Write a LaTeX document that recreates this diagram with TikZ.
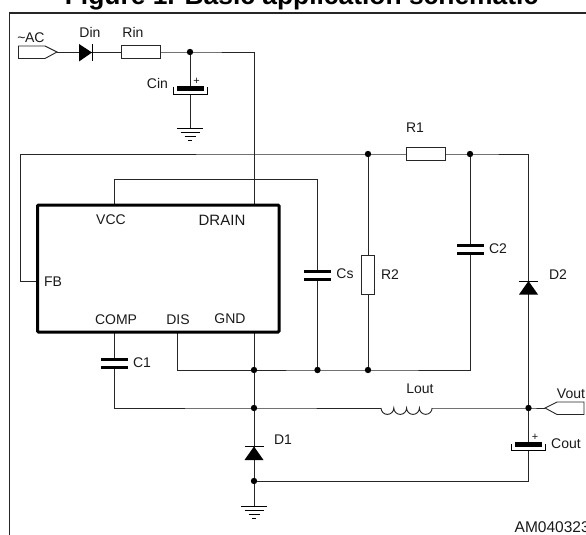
\documentclass[tikz,border=0pt]{standalone}
\usepackage{fontspec}
\usetikzlibrary{calc}
\setmainfont{Liberation Sans}
\begin{document}
\begin{tikzpicture}[x=1pt,y=-1pt,
  wire/.style={draw=black!85,line width=0.95pt},
  frameline/.style={draw=black!85,line width=1.3pt},
  res/.style={draw=black!85,fill=white,line width=0.9pt,rectangle,inner sep=0pt,outer sep=0pt},
  chip/.style={draw=black,fill=none,line width=3pt,rectangle,rounded corners=1pt,inner sep=0pt,outer sep=0pt,minimum width=241.5pt,minimum height=127pt},
  dotn/.style={circle,fill=black,inner sep=0pt,minimum size=6.4pt},
  plate/.style={fill=black,draw=none},
  lab/.style={font=\fontsize{14}{16}\selectfont,inner sep=0pt,text=black!90},
  conn/.style={draw=black!85,fill=white,line width=0.9pt},
  dfill/.style={fill=black,draw=none},
  dbar/.style={draw=black,line width=0.9pt}]
\useasboundingbox (0,0) rectangle (586,535);
% title and frame
\node[font=\bfseries\fontsize{26.4}{28}\selectfont,anchor=base,inner sep=0pt] (title) at (301.5,5) {Figure 1. Basic application schematic};
\coordinate (fbl) at (9.5,535);
\coordinate (ftl) at (9.5,13);
\coordinate (ftr) at (586,13);
\draw[frameline] (fbl) -- (ftl) -- (ftr);
% named points
\coordinate (jin) at (190,52);
\coordinate (jr1l) at (368,154);
\coordinate (jr1r) at (470,154);
\coordinate (jgnd) at (254,370);
\coordinate (jcs) at (317.5,370);
\coordinate (jr2) at (368,370);
\coordinate (jlx) at (254,408);
\coordinate (jout) at (528.5,408);
\coordinate (jret) at (254,481);
\coordinate (gin) at (190,128);
\coordinate (gout) at (254,506.5);
\coordinate (icvcc) at (114,205);
\coordinate (icdrain) at (254,205);
\coordinate (icfb) at (37.5,281);
\coordinate (iccomp) at (114,332);
\coordinate (icdis) at (177,332);
\coordinate (icgnd) at (254,332);
\coordinate (tinr) at (57,52);
\coordinate (toutl) at (545,408);
% wires
\draw[wire] (tinr) -- (jin) -- (254,52) -- (icdrain);
\draw[wire] (jin) -- (gin);
\draw[wire] (icfb) -| (20,154) -- (jr1l) -- (jr1r) -- (528.5,154) -- (jout);
\draw[wire] (icvcc) |- (317.5,179) -- (jcs);
\draw[wire] (jr1l) -- (jr2);
\draw[wire] (jr1r) -- (470,370) -- (jr2) -- (jcs) -- (jgnd);
\draw[wire] (jgnd) -- (177,370) -- (icdis);
\draw[wire] (icgnd) -- (gout);
\draw[wire] (iccomp) -- (114,408) -- (jlx) -- (381,408);
\draw[wire] (432,408) -- (jout) -- (toutl);
\draw[wire] (jout) -- (528.5,481) -- (jret);
% chip
\node[chip] (ic) at (158.25,268.5) {};
% resistors
\node[res,minimum width=38.5pt,minimum height=13pt] (rin) at (141,52.3) {};
\node[res,minimum width=39pt,minimum height=13pt] (r1) at (425.5,154) {};
\node[res,minimum width=13pt,minimum height=38.5pt] (r2) at (368,275) {};
% inductor
\node[inner sep=0pt,minimum size=0pt] (lout) at (406.5,408) {};
\draw[wire] (381,408) arc (180:0:6.4) arc (180:0:6.4) arc (180:0:6.4) arc (180:0:6.35);
% connectors
\draw[conn] (18.5,46) -- (45,46) -- (tinr) -- (45,58.5) -- (18.5,58.5) -- cycle;
\draw[conn] (toutl) -- (557,402) -- (584,402) -- (584,414.5) -- (557,414.5) -- cycle;
% diodes
\fill[dfill] (79,44) -- (79,61.5) -- (92,52.5) -- cycle;
\draw[dbar] (92,44) -- (92,61.5);
\fill[dfill] (528.5,281) -- (519,294.5) -- (538,294.5) -- cycle;
\draw[dbar] (519,281) -- (538,281);
\fill[dfill] (254,446.5) -- (244.5,460) -- (263.5,460) -- cycle;
\draw[dbar] (244.5,446.5) -- (263.5,446.5);
% capacitors
\fill[white] (105,361) rectangle (124,366);
\fill[plate] (101,358) rectangle (127.5,361);
\fill[plate] (101,366) rectangle (127.5,369);
\fill[white] (306,272.5) rectangle (329,277.5);
\fill[plate] (304,269.5) rectangle (331,272.5);
\fill[plate] (304,277.5) rectangle (331,280.5);
\fill[white] (459,246.5) rectangle (482,252);
\fill[plate] (457,243.5) rectangle (484,246.5);
\fill[plate] (457,252) rectangle (484,255);
% polarised
\fill[white] (186,86) rectangle (194,93.5);
\fill[plate] (177,86) rectangle (203.5,91);
\draw[dbar] (173.5,86.5) -- (173.5,94) -- (207,94) -- (207,86.5);
\node[lab,font=\fontsize{11}{12}\selectfont] (pin) at (196.5,81) {+};
\fill[white] (524,442) rectangle (533,450);
\fill[plate] (515,442) rectangle (542,447);
\draw[dbar] (511.5,444) -- (511.5,450.5) -- (545,450.5) -- (545,444);
\node[lab,font=\fontsize{11}{12}\selectfont] (pout) at (535,437) {+};
% grounds
\foreach \n/\w in {0/13,4/9.5,8/5.5,12/2}{
  \draw[dbar] ($(gin)+(-\w,\n)$) -- ($(gin)+(\w,\n)$);
  \draw[dbar] ($(gout)+(-\w,\n)$) -- ($(gout)+(\w,\n)$);
}
% dots
\foreach \p/\q in {jin/a,jr1l/b,jr1r/c,jgnd/d,jcs/e,jr2/f,jlx/g,jout/h,jret/i}{
  \node[dotn] (dot\q) at (\p) {};
}
% labels
\node[lab] (lac) at (31,37.5) {\textasciitilde\kern-0.5pt AC};
\node[lab] (ldin) at (90,32.5) {Din};
\node[lab] (lrin) at (133,32.5) {Rin};
\node[lab] (lcin) at (157.5,83) {Cin};
\node[lab] (lr1) at (415,128) {R1};
\node[lab] (lcs) at (345,274) {Cs};
\node[lab] (lr2) at (390,274.5) {R2};
\node[lab] (lc2) at (498,248.5) {C2};
\node[lab] (ld2) at (558,274.5) {D2};
\node[lab] (ld1) at (283,439.5) {D1};
\node[lab] (lc1) at (142,363) {C1};
\node[lab] (llout) at (420,388.5) {Lout};
\node[lab] (lvout) at (571,393.5) {Vout};
\node[lab] (lcout) at (566,443.5) {Cout};
\node[lab,font=\fontsize{15.5}{17}\selectfont,anchor=base west] (lam) at (514.5,532) {AM040323};
\node[lab] (lvcc) at (111,220) {VCC};
\node[lab,font=\fontsize{15}{17}\selectfont] (ldrain) at (222,220) {DRAIN};
\node[lab] (lfb) at (53,282) {FB};
\node[lab] (lcomp) at (116,320) {COMP};
\node[lab] (ldis) at (178,320) {DIS};
\node[lab] (lgnd) at (230,319) {GND};
\end{tikzpicture}
\end{document}
